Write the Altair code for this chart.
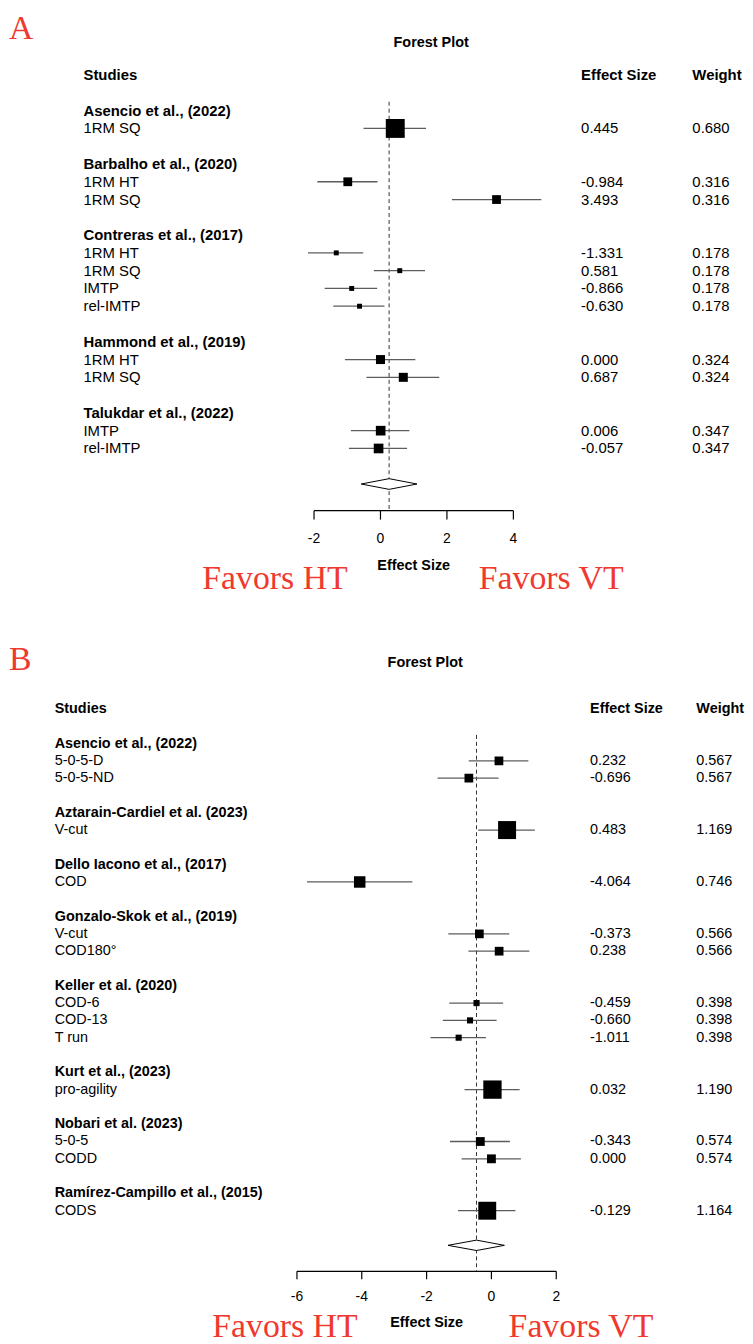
import altair as alt
import pandas as pd

# ---------------- Panel A data ----------------
A_STUDIES = ["Asencio et al., (2022)", "Barbalho et al., (2020)", "Contreras et al., (2017)",
             "Hammond et al., (2019)", "Talukdar et al., (2022)"]
A_STUDY_OF = [0, 1, 1, 2, 2, 2, 2, 3, 3, 4, 4]
A_OUTCOMES = ["1RM SQ", "1RM HT", "1RM SQ", "1RM HT", "1RM SQ", "IMTP", "rel-IMTP",
              "1RM HT", "1RM SQ", "IMTP", "rel-IMTP"]
A_ES = [0.445, -0.984, 3.493, -1.331, 0.581, -0.866, -0.630, 0.000, 0.687, 0.006, -0.057]
A_LO = [-0.51, -1.90, 2.15, -2.18, -0.20, -1.68, -1.42, -1.07, -0.42, -0.89, -0.95]
A_HI = [1.37, -0.09, 4.84, -0.52, 1.34, -0.10, 0.12, 1.05, 1.77, 0.87, 0.80]
A_WEIGHT = [0.680, 0.316, 0.316, 0.178, 0.178, 0.178, 0.178, 0.324, 0.324, 0.347, 0.347]
A_POOLED = [0.26, -0.58, 1.10]  # estimate, lower, upper
A_TICKS = [-2, 0, 2, 4]

# ---------------- Panel B data ----------------
B_STUDIES = ["Asencio et al., (2022)", "Aztarain-Cardiel et al. (2023)", "Dello Iacono et al., (2017)",
             "Gonzalo-Skok et al., (2019)", "Keller et al. (2020)", "Kurt et al., (2023)",
             "Nobari et al. (2023)", "Ramírez-Campillo et al., (2015)"]
B_STUDY_OF = [0, 0, 1, 2, 3, 3, 4, 4, 4, 5, 6, 6, 7]
B_OUTCOMES = ["5-0-5-D", "5-0-5-ND", "V-cut", "COD", "V-cut", "COD180°", "COD-6", "COD-13",
              "T run", "pro-agility", "5-0-5", "CODD", "CODS"]
B_ES = [0.232, -0.696, 0.483, -4.064, -0.373, 0.238, -0.459, -0.660, -1.011, 0.032, -0.343, 0.000, -0.129]
B_LO = [-0.70, -1.66, -0.41, -5.69, -1.33, -0.71, -1.30, -1.50, -1.88, -0.83, -1.28, -0.92, -1.03]
B_HI = [1.14, 0.22, 1.34, -2.44, 0.55, 1.17, 0.36, 0.16, -0.17, 0.87, 0.57, 0.91, 0.74]
B_WEIGHT = [0.567, 0.567, 1.169, 0.746, 0.566, 0.566, 0.398, 0.398, 0.398, 1.190, 0.574, 0.574, 1.164]
B_POOLED = [-0.46, -1.34, 0.40]
B_TICKS = [-6, -4, -2, 0, 2]

SANS = "Liberation Sans"
SERIF = "Liberation Serif"
RED = "#f0392e"
W = 737


def panel(letter, studies, study_of, outcomes, es, lo, hi, wt, pooled, ticks, c):
    titles, recs = [], []
    r, prev = 0, None
    for j, s in enumerate(study_of):
        if s != prev:
            if prev is not None:
                r += 1
            titles.append({"row": r, "label": studies[s]})
            r += 1
            prev = s
        recs.append({"row": r, "label": outcomes[j], "es": es[j], "lo": lo[j], "hi": hi[j],
                     "w": wt[j], "es_txt": f"{es[j]:.3f}", "w_txt": f"{wt[j]:.3f}"})
        r += 1
    drow = r + 1
    arow = drow + 1.5
    H = c["H"]
    y0, dy, x0, dx = c["y0"], c["dy"], c["x0"], c["dx"]
    ys = alt.Scale(domain=[-y0 / dy, (H - y0) / dy], reverse=True, nice=False, zero=False)
    xs = alt.Scale(domain=[-x0 / dx, (W - x0) / dx], nice=False, zero=False)
    ay = y0 + dy * arow

    df = pd.DataFrame(recs)
    dt = pd.DataFrame(titles)
    one = pd.DataFrame({"_": [0]})
    fs = c["fs"]

    def X(f):
        return alt.X(f, scale=xs, axis=None)

    def Y(f):
        return alt.Y(f, scale=ys, axis=None)

    dash = alt.Chart(pd.DataFrame({"x": [pooled[0]], "r0": [-0.5], "r1": [arow]})).mark_rule(
        strokeDash=[4, 3], color="#333333", strokeWidth=1).encode(x=X("x:Q"), y=Y("r0:Q"), y2="r1:Q")
    ci = alt.Chart(df).mark_rule(color="#5c5c5c", strokeWidth=1.3).encode(
        x=X("lo:Q"), x2="hi:Q", y=Y("row:Q"))
    sq = alt.Chart(df).mark_square(filled=True, color="black", opacity=1).encode(
        x=X("es:Q"), y=Y("row:Q"),
        size=alt.Size("w:Q", legend=None,
                      scale=alt.Scale(type="pow", exponent=2, domain=[0, 1], range=[0, c["k"] ** 2])))
    h = 0.3
    dd = pd.DataFrame({"x": [pooled[1], pooled[0], pooled[2]],
                       "top": [drow, drow - h, drow], "bot": [drow, drow + h, drow]})
    diamond = alt.Chart(dd).mark_area(fill="white", stroke="black", strokeWidth=1, opacity=1).encode(
        x=X("x:Q"), y=Y("top:Q"), y2="bot:Q")
    axline = alt.Chart(pd.DataFrame({"a": [min(ticks)], "b": [max(ticks)]})).mark_rule(
        color="black", strokeWidth=1.2).encode(x=X("a:Q"), x2="b:Q", y=alt.value(ay))
    dtk = pd.DataFrame({"t": ticks, "lab": [str(t) for t in ticks]})
    tk = alt.Chart(dtk).mark_rule(color="black", strokeWidth=1.2).encode(
        x=X("t:Q"), y=alt.value(ay), y2=alt.value(ay + c["tl"]))
    tklab = alt.Chart(dtk).mark_text(font=SANS, fontSize=14, align="center", baseline="middle",
                                     color="black").encode(x=X("t:Q"), y=alt.value(ay + c["tlo"]), text="lab:N")
    efs = alt.Chart(pd.DataFrame({"x": [(min(ticks) + max(ticks)) / 2]})).mark_text(
        font=SANS, fontSize=14.5, fontWeight="bold", align="center", baseline="middle", color="black"
    ).encode(x=X("x:Q"), y=alt.value(ay + c["efo"]), text=alt.value("Effect Size"))

    def txt(data, field, xpos, bold=False):
        return alt.Chart(data).mark_text(font=SANS, fontSize=fs, fontWeight="bold" if bold else "normal",
                                         align="left", baseline="middle", color="black").encode(
            x=alt.value(xpos), y=Y("row:Q"), text=field)

    stitle = txt(dt, "label:N", c["lx"], True)
    olab = txt(df, "label:N", c["lx"])
    escol = txt(df, "es_txt:N", c["ex"])
    wcol = txt(df, "w_txt:N", c["wx"])
    hdr = pd.DataFrame({"row": [-2]})
    h1 = txt(hdr, alt.value("Studies"), c["lx"], True)
    h2 = txt(hdr, alt.value("Effect Size"), c["ex"], True)
    h3 = txt(hdr, alt.value("Weight"), c["wx"], True)

    title = alt.Chart(one).mark_text(font=SANS, fontSize=14.5, fontWeight="bold", align="center",
                                     baseline="middle", color="black").encode(
        x=alt.value(c["tx"]), y=alt.value(c["ty"]), text=alt.value("Forest Plot"))
    let = alt.Chart(one).mark_text(font=SERIF, fontSize=34, align="left", baseline="top",
                                   color=RED).encode(x=alt.value(1), y=alt.value(c["ly"]), text=alt.value(letter))
    fht = alt.Chart(one).mark_text(font=SERIF, fontSize=34, align="right", baseline="alphabetic",
                                   color=RED).encode(x=alt.value(c["htx"]), y=alt.value(c["fy"]),
                                                     text=alt.value("Favors HT"))
    fvt = alt.Chart(one).mark_text(font=SERIF, fontSize=34, align="left", baseline="alphabetic",
                                   color=RED).encode(x=alt.value(c["vtx"]), y=alt.value(c["fy"]),
                                                     text=alt.value("Favors VT"))
    return alt.layer(dash, ci, sq, diamond, axline, tk, tklab, efs, stitle, olab, escol, wcol,
                     h1, h2, h3, title, let, fht, fvt).properties(width=W, height=H)


cfgA = dict(H=592, y0=98.8, dy=17.9, x0=375, dx=33.45, fs=15, k=28, lx=76, ex=577, wx=689,
            tx=426, ty=31, ly=0, tl=9, tlo=28.4, efo=55.4, fy=580, htx=342, vtx=474)
cfgB = dict(H=736, y0=144.0, dy=17.42, x0=486.7, dx=32.63, fs=14.5, k=15.5, lx=47, ex=586, wx=693,
            tx=420, ty=63, ly=43, tl=8, tlo=25.5, efo=52.5, fy=741, htx=352, vtx=504)

pA = panel("A", A_STUDIES, A_STUDY_OF, A_OUTCOMES, A_ES, A_LO, A_HI, A_WEIGHT, A_POOLED, A_TICKS, cfgA)
pB = panel("B", B_STUDIES, B_STUDY_OF, B_OUTCOMES, B_ES, B_LO, B_HI, B_WEIGHT, B_POOLED, B_TICKS, cfgB)

chart = alt.vconcat(pA, pB, spacing=0, bounds="flush").resolve_scale(
    x="independent", y="independent", size="independent"
).configure_view(strokeWidth=0).properties(padding=0, background="white")

chart.save("out.html", embed_options={"renderer": "svg", "actions": False})
